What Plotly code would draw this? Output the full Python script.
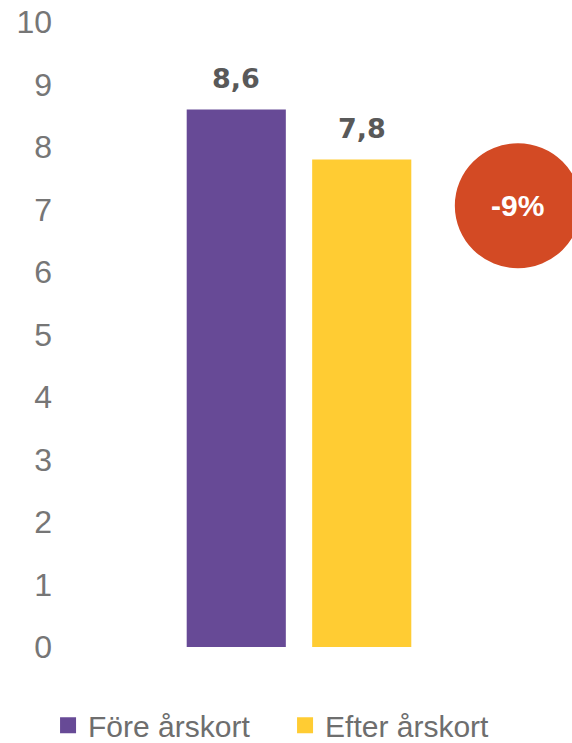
import plotly.graph_objects as go

categories = ["Restid"]
series_names = ["Före årskort", "Efter årskort"]
series_values = [[8.6], [7.8]]
series_colors = ["#674A96", "#FFCC33"]
change_label = "-9%"
y_ticks = list(range(0, 11))

W, H = 572, 743
ML, MR, MT, MB = 60, 34, 22, 96
BARGAP, BARGROUPGAP = 0.475, 0.21
plot_w = W - ML - MR
slot_px = plot_w * (1 - BARGAP) / len(series_names)

fig = go.Figure()
for i, (name, vals, col) in enumerate(zip(series_names, series_values, series_colors)):
    fig.add_trace(go.Bar(
        x=categories, y=vals, name=name, marker_color=col, marker_line_width=0,
        showlegend=False,
    ))
    fig.add_trace(go.Scatter(
        x=[None], y=[None], mode="markers", name=name,
        marker=dict(symbol="square", size=16, color=col),
    ))
    shift = (i - (len(series_names) - 1) / 2) * slot_px
    for c, v in zip(categories, vals):
        fig.add_annotation(
            x=c, y=v, xref="x", yref="y", xshift=shift, yshift=14,
            text="<b>" + f"{v:.1f}".replace(".", ",") + "</b>",
            showarrow=False, xanchor="center", yanchor="bottom",
            font=dict(family="DejaVu Sans", size=27, color="#595959"),
        )

fig.add_shape(type="circle", xref="paper", yref="paper",
              x0=0.826, x1=1.090, y0=0.606, y1=0.806,
              fillcolor="#D34A24", line_width=0, layer="above")
fig.add_annotation(xref="paper", yref="paper", x=0.958, y=0.706,
                   xanchor="center", yanchor="middle",
                   text="<b>" + change_label + "</b>", showarrow=False,
                   font=dict(family="Liberation Sans, Arial", size=30, color="white"))

fig.update_layout(
    width=W, height=H,
    margin=dict(l=ML, r=MR, t=MT, b=MB),
    plot_bgcolor="white", paper_bgcolor="white",
    barmode="group", bargap=BARGAP, bargroupgap=BARGROUPGAP,
    separators=", ",
    font=dict(family="Liberation Sans, Arial", color="#6E6E6E"),
    xaxis=dict(showticklabels=False, showgrid=False, zeroline=False, showline=False,
               automargin=False),
    yaxis=dict(range=[0, 10], tickvals=y_ticks, showgrid=False, zeroline=False,
               showline=False, ticks="", ticklabelstandoff=7, automargin=False,
               tickfont=dict(size=32, color="#767676")),
    legend=dict(orientation="h", xref="container", yref="container",
                x=0.084, xanchor="left", y=0.024, yanchor="middle",
                font=dict(size=30, color="#6E6E6E"),
                entrywidth=192, entrywidthmode="pixels", itemclick=False),
)

fig.write_html("out.html", config={"displayModeBar": False},
               post_script="document.body.style.margin='0px';document.body.style.overflow='hidden';")
